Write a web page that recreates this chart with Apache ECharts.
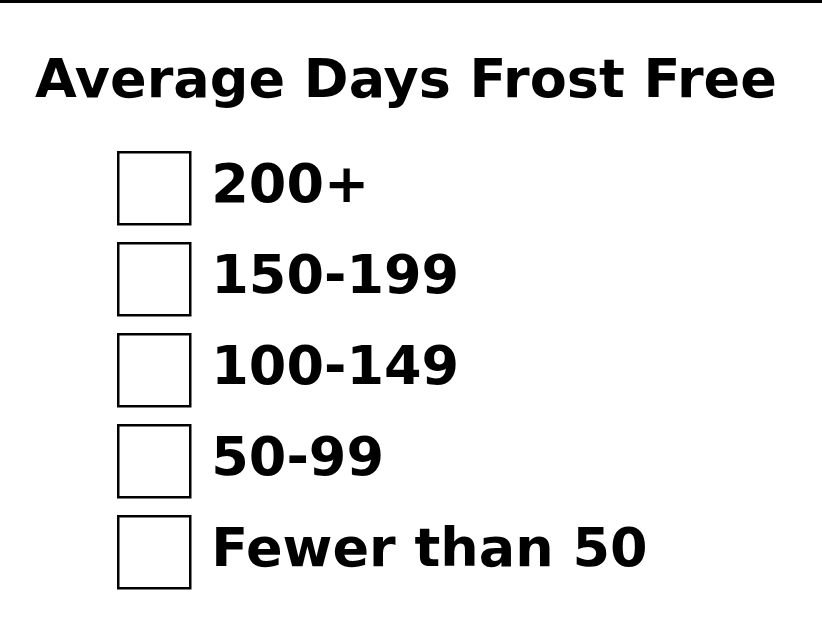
<!DOCTYPE html>
<html lang="en">

<head>
    <meta charset="UTF-8">
    <title>Average Days Frost Free</title>
    <script src="https://cdn.jsdelivr.net/npm/echarts@6/dist/echarts.min.js"></script>
    <style>
        html, body {
            margin: 0;
            padding: 0;
            background: #fff;
        }

        #main {
            width: 822px;
            height: 627px;
            border-top: 3px solid #000;
        }
    </style>
</head>

<body>
    <div id="main"></div>
    <script>
        // legend categories
        var titleText = 'Average Days Frost Free';
        var categories = ['200+', '150-199', '100-149', '50-99', 'Fewer than 50'];

        var chart = echarts.init(document.getElementById('main'));

        var font = '"DejaVu Sans", "Liberation Sans", Arial, sans-serif';

        var boxStyle = {
            color: '#fff',
            borderColor: '#000',
            borderWidth: 2.5,
            opacity: 1
        };

        // one empty series per category so the legend has entries
        var series = categories.map(function (name) {
            return {
                name: name,
                type: 'scatter',
                data: [],
                itemStyle: boxStyle
            };
        });

        var option = {
            animation: false,
            backgroundColor: '#fff',
            title: {
                text: titleText,
                left: 30,
                top: 48,
                textStyle: {
                    fontFamily: font,
                    fontSize: 54,
                    fontWeight: 'bold',
                    color: '#000'
                }
            },
            legend: {
                orient: 'vertical',
                left: 112,
                top: 143,
                icon: 'rect',
                itemWidth: 72,
                itemHeight: 72,
                itemGap: 16.5,
                selectedMode: false,
                data: categories,
                itemStyle: boxStyle,
                textStyle: {
                    fontFamily: font,
                    fontSize: 54,
                    fontWeight: 'bold',
                    color: '#000',
                    lineHeight: 72,
                    padding: [0, 0, 0, 16]
                }
            },
            xAxis: { show: false },
            yAxis: { show: false },
            series: series
        };

        chart.setOption(option);
    </script>
</body>

</html>
